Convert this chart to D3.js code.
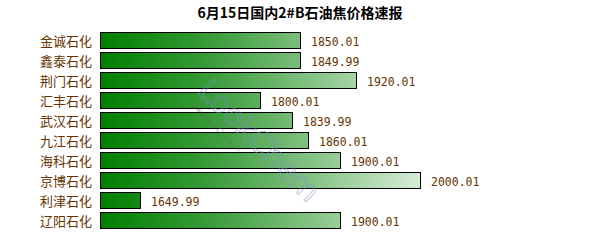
<html>
<head>
  <meta charset="utf-8">
  <script src="https://d3js.org/d3.v7.min.js"></script>
  <style>
    body { margin: 0; background: #fff; }
    svg { display: block; }
  </style>
</head>
<body>
  <script type="text/javascript">
    // chart data
    var title = "6月15日国内2#B石油焦价格速报";
    var companies = ["金诚石化", "鑫泰石化", "荆门石化", "汇丰石化", "武汉石化",
                     "九江石化", "海科石化", "京博石化", "利津石化", "辽阳石化"];
    var prices = [1850.01, 1849.99, 1920.01, 1800.01, 1839.99,
                  1860.01, 1900.01, 2000.01, 1649.99, 1900.01];
    var priceLabels = ["1850.01", "1849.99", "1920.01", "1800.01", "1839.99",
                       "1860.01", "1900.01", "2000.01", "1649.99", "1900.01"];

    var width = 600, height = 250;
    var svg = d3.select("body").append("svg")
        .attr("width", width)
        .attr("height", height);

    // horizontal value scale, bars start at the left edge of the plot
    var x = d3.scaleLinear().domain([1600, 2000]).range([100, 420]);
    var y = d3.scaleBand().domain(companies).range([30, 230]).paddingInner(0.15).paddingOuter(0.075);

    // one gradient across the whole axis, so longer bars get lighter ends
    var grad = svg.append("defs").append("linearGradient")
        .attr("id", "barGrad")
        .attr("gradientUnits", "userSpaceOnUse")
        .attr("x1", x.range()[0]).attr("x2", x.range()[1])
        .attr("y1", 0).attr("y2", 0);
    grad.append("stop").attr("offset", "0%").attr("stop-color", "#007f00");
    grad.append("stop").attr("offset", "35%").attr("stop-color", "#3a9c3a");
    grad.append("stop").attr("offset", "100%").attr("stop-color", "#d6ecd6");

    // title
    svg.append("text")
        .attr("x", 300)
        .attr("y", 18)
        .attr("text-anchor", "middle")
        .style("font-family", "'Noto Sans CJK SC', sans-serif")
        .style("font-size", "14px")
        .style("font-weight", "bold")
        .style("fill", "#000")
        .text(title);

    // bars
    svg.selectAll("rect.bar")
        .data(prices)
        .enter()
        .append("rect")
        .attr("class", "bar")
        .attr("x", x.range()[0] + 0.5)
        .attr("y", function (d, i) { return Math.round(y(companies[i])) + 0.5; })
        .attr("width", function (d) { return x(d) - x.range()[0]; })
        .attr("height", 16)
        .style("fill", "url(#barGrad)")
        .style("stroke", "#000")
        .style("stroke-width", 1);

    // category labels
    svg.selectAll("text.cat")
        .data(companies)
        .enter()
        .append("text")
        .attr("class", "cat")
        .attr("x", 92)
        .attr("y", function (d) { return Math.round(y(d)) + 14; })
        .attr("text-anchor", "end")
        .style("font-family", "'Noto Sans CJK SC', sans-serif")
        .style("font-size", "13px")
        .style("fill", "#663300")
        .text(function (d) { return d; });

    // faint watermark over the plot
    var wm = svg.append("g")
        .attr("transform", "translate(196,92) rotate(45)")
        .style("opacity", 0.5);
    wm.append("text")
        .attr("x", 0).attr("y", 0)
        .style("font-family", "'DejaVu Sans', sans-serif")
        .style("font-size", "30px")
        .style("fill", "none")
        .style("stroke", "#7f93c9")
        .style("stroke-width", 1)
        .text("LookChem");
    wm.append("text")
        .attr("x", 6).attr("y", 13)
        .style("font-family", "'DejaVu Sans', sans-serif")
        .style("font-size", "7px")
        .style("fill", "#666")
        .text("www.LookChem.cn");

    // value labels
    svg.selectAll("text.val")
        .data(prices)
        .enter()
        .append("text")
        .attr("class", "val")
        .attr("x", function (d) { return x(d) + 11; })
        .attr("y", function (d, i) { return Math.round(y(companies[i])) + 13.5; })
        .style("font-family", "'DejaVu Sans Mono', monospace")
        .style("font-size", "11.5px")
        .style("fill", "#663300")
        .text(function (d, i) { return priceLabels[i]; });
  </script>
</body>
</html>
